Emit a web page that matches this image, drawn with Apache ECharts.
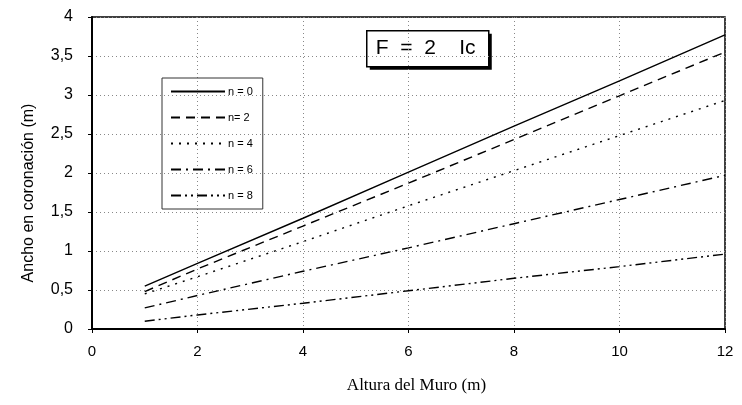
<!DOCTYPE html>
<html>
<head>
<meta charset="utf-8">
<script src="https://cdn.jsdelivr.net/npm/echarts@6/dist/echarts.min.js"></script>
<style>
  html, body { margin: 0; padding: 0; background: #fff; }
  #chart { width: 742px; height: 405px; }
</style>
</head>
<body>
<div id="chart"></div>
<script>
// Altura del muro (m)
const alturas = [1, 2, 4, 6, 8, 10, 12];
// Ancho en coronación (m)
const n0 = [0.55, 0.84, 1.42, 2.01, 2.60, 3.18, 3.77];
const n2 = [0.48, 0.77, 1.32, 1.87, 2.43, 2.99, 3.55];
const n4 = [0.45, 0.67, 1.12, 1.58, 2.03, 2.48, 2.93];
const n6 = [0.27, 0.43, 0.74, 1.04, 1.35, 1.66, 1.97];
const n8 = [0.10, 0.18, 0.33, 0.49, 0.65, 0.80, 0.96];
const seriesNames = ['n = 0', 'n= 2', 'n = 4', 'n = 6', 'n = 8'];

const chart = echarts.init(document.getElementById('chart'));

const dashes = [
  'solid',
  [9, 6],
  [2, 6],
  [10, 5, 2, 5],
  [10, 4, 2, 4, 2, 4]
];

const lines = [n0, n2, n4, n6, n8].map((vals, i) => ({
  name: seriesNames[i],
  type: 'line',
  symbol: 'none',
  data: alturas.map((x, j) => [x, vals[j]]),
  lineStyle: { color: '#000', width: 1.4, type: dashes[i] },
  itemStyle: { color: '#000' }
}));

const option = {
  backgroundColor: '#fff',
  animation: false,
  grid: {
    left: 92, right: 17, top: 17, bottom: 76,
    show: true, borderColor: '#000', borderWidth: 1.5, backgroundColor: '#fff'
  },
  legend: {
    orient: 'vertical',
    left: 162, top: 78,
    itemWidth: 54, itemHeight: 8,
    itemGap: 15,
    padding: [8, 10, 8, 8],
    borderColor: '#333', borderWidth: 1,
    itemStyle: { opacity: 0 },
    textStyle: { fontFamily: 'Liberation Sans', fontSize: 11, color: '#000', padding: [0, 0, 0, -2] },
    data: seriesNames
  },
  xAxis: {
    type: 'value', min: 0, max: 12, interval: 2,
    name: 'Altura del Muro (m)', nameLocation: 'middle', nameGap: 48,
    nameTextStyle: { fontFamily: 'Liberation Serif', fontSize: 17, color: '#000', padding: [0, 0, 0, 16] },
    axisLine: { onZero: false, lineStyle: { color: '#000', width: 2 } },
    axisTick: { show: true, length: 4, lineStyle: { color: '#000' } },
    axisLabel: { fontFamily: 'Liberation Sans', fontSize: 15, color: '#000', margin: 15 },
    splitLine: { show: true, lineStyle: { color: '#888', type: [1, 3], width: 1 } }
  },
  yAxis: {
    type: 'value', min: 0, max: 4, interval: 0.5,
    axisLine: { show: true, lineStyle: { color: '#000', width: 2 } },
    axisTick: { show: true, length: 4, lineStyle: { color: '#000' } },
    axisLabel: {
      fontFamily: 'Liberation Sans', fontSize: 16, color: '#000', margin: 19,
      formatter: v => String(v).replace('.', ',')
    },
    splitLine: { show: true, lineStyle: { color: '#888', type: [1, 3], width: 1 } }
  },
  graphic: [
    {
      type: 'text', x: 29, y: 193, rotation: Math.PI / 2,
      style: {
        text: 'Ancho en coronación (m)', font: '16px "Liberation Sans"', fill: '#000',
        align: 'center', verticalAlign: 'middle'
      }
    },
    {
      type: 'group', left: 366, top: 30,
      children: [
        { type: 'rect', shape: { x: 3, y: 3, width: 122, height: 36 }, style: { fill: '#000' } },
        { type: 'rect', shape: { x: 0, y: 0, width: 122, height: 36 }, style: { fill: '#fff', stroke: '#000', lineWidth: 1.5 } },
        {
          type: 'text', left: 9, top: 7,
          style: { text: 'F  =  2    Ic', font: '21px "Liberation Sans"', fill: '#000' }
        }
      ]
    }
  ],
  series: lines
};

chart.setOption(option);
</script>
</body>
</html>
